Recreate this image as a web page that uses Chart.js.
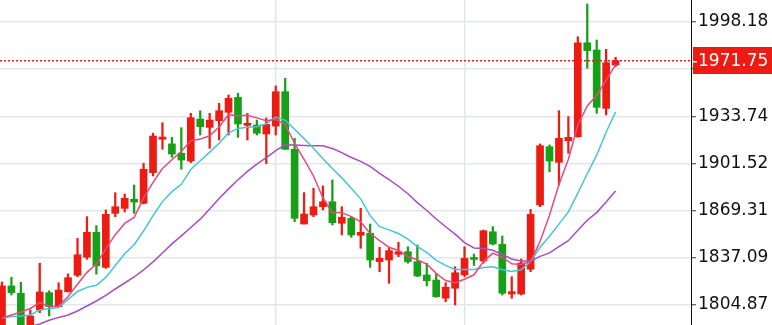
<!DOCTYPE html>
<html>
<head>
<meta charset="utf-8">
<script src="https://cdn.jsdelivr.net/npm/chart.js@4.4.0/dist/chart.umd.min.js"></script>
<style>
html, body { margin: 0; padding: 0; background: #fff; }
#wrap { width: 772px; height: 325px; }
</style>
</head>
<body>
<div id="wrap"><canvas id="kline"></canvas></div>
<script>
// daily candles
var opens = [1787.8,1817.9,1812.9,1789.2,1801.5,1813.3,1803.7,1813.9,1825.2,1837.5,1854.5,1830.6,1867.5,1870.9,1877.1,1874.3,1895.3,1918.1,1914.9,1908.5,1903.2,1931.9,1926.2,1930.8,1936.5,1946.7,1927.6,1927.8,1921.7,1927.1,1950.6,1911.2,1860.2,1866.3,1872.0,1875.4,1860.7,1864.1,1852.5,1853.9,1834.5,1835.6,1839.5,1841.3,1834.5,1825.4,1821.9,1809.5,1816.3,1825.4,1837.1,1834.9,1854.9,1846.3,1812.4,1812.4,1829.3,1873.2,1913.0,1902.3,1917.1,1919.8,1984.0,1979.1,1939.2,1968.8];
var highs = [1820.6,1823.8,1820.4,1801.5,1833.4,1814.6,1820.1,1826.1,1850.4,1865.2,1859.1,1869.8,1881.6,1880.7,1886.8,1901.7,1922.2,1929.4,1919.4,1926.0,1935.8,1937.6,1935.8,1942.6,1948.3,1949.5,1935.8,1931.2,1932.6,1954.5,1959.7,1918.7,1881.6,1884.6,1886.2,1890.3,1872.0,1865.2,1870.9,1860.2,1844.3,1844.3,1847.7,1844.7,1845.9,1833.4,1826.1,1820.1,1831.0,1844.7,1839.7,1856.1,1858.4,1852.0,1824.2,1836.3,1870.2,1914.9,1914.2,1937.6,1933.5,1988.1,2010.5,1985.9,1979.5,1974.1];
var lows = [1784.4,1811.7,1787.8,1786.4,1799.6,1797.4,1803.3,1813.8,1824.2,1836.1,1825.9,1829.9,1865.2,1868.4,1867.5,1873.9,1893.0,1911.2,1905.8,1897.6,1902.1,1921.0,1911.9,1917.6,1921.0,1919.4,1917.6,1921.0,1901.5,1921.0,1911.2,1861.8,1860.2,1865.2,1869.8,1859.5,1852.7,1851.1,1843.6,1830.6,1827.6,1819.7,1837.9,1833.4,1824.2,1817.9,1810.1,1807.1,1804.9,1824.2,1831.9,1833.4,1845.9,1811.7,1809.5,1811.7,1827.6,1872.0,1895.9,1886.8,1908.5,1919.4,1966.6,1935.8,1934.7,1967.6];
var closes = [1817.9,1813.3,1790.5,1797.4,1813.8,1803.7,1815.1,1823.5,1839.2,1854.5,1831.7,1866.8,1872.0,1877.8,1875.2,1897.6,1920.3,1919.6,1908.0,1903.9,1932.8,1926.7,1931.2,1937.6,1946.1,1928.5,1929.0,1922.2,1928.3,1950.6,1911.2,1864.1,1867.0,1872.0,1875.4,1861.1,1864.8,1852.7,1854.5,1835.6,1836.8,1842.0,1841.3,1834.5,1824.7,1821.5,1810.6,1817.0,1826.9,1836.8,1836.0,1855.6,1846.5,1812.9,1814.0,1833.6,1866.8,1913.7,1903.2,1918.7,1919.4,1984.0,1978.6,1939.9,1970.4,1971.75];

// moving average lines as they appear in the picture
var ma5 = [1796.0,1798.1,1800.1,1802.5,1806.6,1803.7,1804.1,1810.7,1819.1,1827.2,1832.8,1843.2,1852.9,1860.6,1864.7,1877.9,1888.6,1898.1,1904.1,1909.9,1917.0,1918.2,1920.5,1926.5,1934.9,1934.1,1934.5,1932.7,1930.8,1931.7,1928.2,1915.3,1904.3,1893.0,1878.0,1867.9,1868.1,1865.2,1861.7,1853.7,1848.9,1844.3,1842.1,1838.0,1835.8,1832.8,1826.5,1821.6,1820.1,1822.5,1825.5,1834.5,1840.3,1837.5,1833.0,1832.5,1834.7,1848.2,1866.2,1887.2,1904.4,1927.8,1940.8,1948.1,1958.5,1969.0];
var ma10 = [1796.0,1797.0,1797.4,1798.1,1801.5,1802.5,1803.1,1808.7,1814.1,1816.9,1818.3,1823.7,1831.8,1839.9,1846.0,1855.4,1865.9,1875.5,1882.3,1887.3,1897.4,1903.4,1909.3,1915.3,1922.4,1925.5,1926.3,1926.6,1928.7,1933.3,1931.1,1924.9,1918.5,1911.9,1904.8,1898.1,1891.7,1884.7,1877.4,1865.9,1858.4,1856.2,1853.7,1849.9,1844.8,1840.8,1835.4,1831.9,1829.1,1829.2,1829.1,1830.5,1831.0,1828.9,1827.8,1829.0,1834.6,1844.3,1851.9,1860.1,1868.5,1881.3,1894.5,1907.2,1922.9,1936.7];
var ma20 = [1785.8,1787.1,1788.5,1790.2,1791.9,1794.4,1796.4,1798.1,1800.8,1804.2,1807.6,1811.4,1815.8,1819.9,1824.0,1828.8,1834.3,1840.4,1846.6,1852.1,1857.8,1863.5,1870.5,1877.6,1884.2,1890.4,1896.1,1901.1,1905.5,1910.3,1914.3,1914.2,1913.9,1913.6,1913.6,1911.8,1909.0,1905.6,1903.0,1899.6,1894.8,1890.5,1886.0,1880.9,1874.8,1869.4,1863.6,1858.3,1853.3,1847.5,1843.8,1843.4,1842.3,1839.4,1836.3,1835.0,1835.0,1838.1,1840.5,1844.7,1848.8,1855.9,1862.8,1868.0,1875.3,1882.8];

var yTicks = [1804.87, 1837.09, 1869.31, 1901.52, 1933.74, 1965.96, 1998.18];
var lastPrice = 1971.75;
var xGridAt = [29, 49];

var UP = '#ec1c12', DOWN = '#17a017';
var FONT = '"DejaVu Sans", Verdana, sans-serif';

var xMin = -0.21, xMax = 72.99;
var yMin = 1791.21, yMax = 2013.21;

function candleColor(ctx) {
  var i = ctx.dataIndex;
  return closes[i] >= opens[i] ? UP : DOWN;
}

var wicks = [], bodies = [];
for (var i = 0; i < opens.length; i++) {
  wicks.push({x: i, y: [lows[i], highs[i]]});
  bodies.push({x: i, y: [opens[i], closes[i]]});
}
function line(arr) {
  return arr.map(function(v, i) { return {x: i, y: v}; });
}

var priceTag = {
  id: 'priceTag',
  afterDraw: function(chart) {
    var c = chart.ctx;
    var y = Math.round(chart.scales.y.getPixelForValue(lastPrice));
    var left = chart.chartArea.right + 2;
    c.save();
    c.fillStyle = UP;
    c.fillRect(left, y - 14, chart.width - left, 27);
    c.fillStyle = '#fff';
    c.fillRect(chart.chartArea.right + 2, y, 4, 1.5);
    c.font = '17px ' + FONT;
    c.textBaseline = 'middle';
    c.textAlign = 'left';
    c.fillText(lastPrice.toFixed(2), chart.chartArea.right + 7, y + 1);
    c.restore();
  }
};

new Chart(document.getElementById('kline'), {
  type: 'bar',
  data: {
    datasets: [
      {type: 'line', data: [{x: xMin, y: lastPrice}, {x: xMax, y: lastPrice}], borderColor: UP, borderWidth: 1.5, borderDash: [2, 2], pointRadius: 0, order: 0},
      {type: 'line', data: line(ma5), borderColor: '#e8497e', borderWidth: 1.5, pointRadius: 0, tension: 0, order: 1},
      {type: 'line', data: line(ma10), borderColor: '#45c5d5', borderWidth: 1.5, pointRadius: 0, tension: 0, order: 2},
      {type: 'line', data: line(ma20), borderColor: '#a54fbf', borderWidth: 1.5, pointRadius: 0, tension: 0, order: 3},
      {data: bodies, backgroundColor: candleColor, barThickness: 7, minBarLength: 2, grouped: false, order: 4},
      {data: wicks, backgroundColor: candleColor, barThickness: 1.6, grouped: false, order: 5}
    ]
  },
  options: {
    responsive: true,
    maintainAspectRatio: false,
    animation: false,
    layout: {padding: 0},
    plugins: {legend: {display: false}, tooltip: {enabled: false}},
    scales: {
      x: {
        type: 'linear',
        min: xMin, max: xMax,
        offset: false,
        grid: {color: '#dfe7eb', lineWidth: 1.5, drawTicks: false, offset: false},
        border: {display: false},
        ticks: {display: false},
        afterBuildTicks: function(s) { s.ticks = xGridAt.map(function(v) { return {value: v}; }); },
        afterFit: function(s) { s.height = 0; s.paddingLeft = 0; s.paddingRight = 0; }
      },
      y: {
        position: 'right',
        min: yMin, max: yMax,
        grid: {color: '#e3e7ea', lineWidth: 1.5, tickColor: '#333', tickLength: 5, tickWidth: 1},
        border: {display: true, color: '#111', width: 1},
        ticks: {
          color: '#111', padding: 2,
          font: {family: FONT, size: 17},
          callback: function(v) { return v.toFixed(2); }
        },
        afterBuildTicks: function(s) { s.ticks = yTicks.map(function(v) { return {value: v}; }); },
        afterFit: function(s) { s.width = 81; s.paddingTop = 0; s.paddingBottom = 0; }
      }
    }
  },
  plugins: [priceTag]
});
</script>
</body>
</html>
